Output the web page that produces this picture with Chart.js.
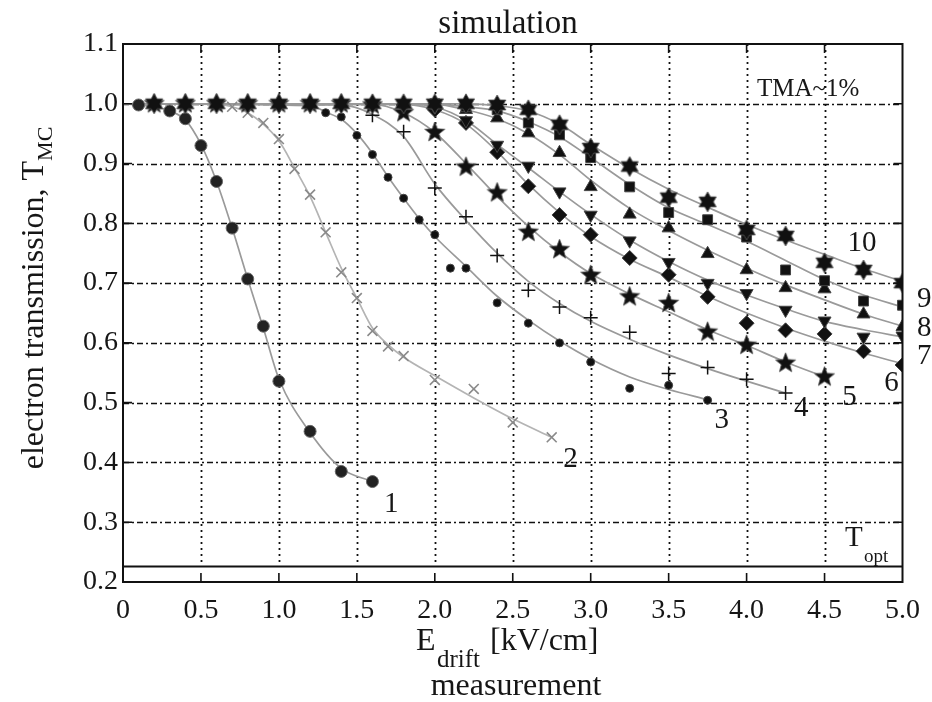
<!DOCTYPE html>
<html>
<head>
<meta charset="utf-8">
<script src="https://cdn.jsdelivr.net/npm/chart.js@4.4.1/dist/chart.umd.min.js"></script>
<style>
  html, body { margin:0; padding:0; background:#fff; }
  #c { display:block; }
</style>
</head>
<body>
<canvas id="c" width="932" height="702"></canvas>
<script>
"use strict";
const SERIF = '"Liberation Serif", "Times New Roman", serif';
const INK = "#161616";

const s1X  = [0.1, 0.3, 0.4, 0.5, 0.6, 0.7, 0.8, 0.9, 1.0, 1.2, 1.4, 1.6];
const s1Y  = [0.998, 0.988, 0.975, 0.93, 0.87, 0.792, 0.707, 0.628, 0.536, 0.452, 0.385, 0.368];
const s2X  = [0.7, 0.8, 0.9, 1.0, 1.1, 1.2, 1.3, 1.4, 1.5, 1.6, 1.7, 1.8, 2.0, 2.25, 2.5, 2.75];
const s2Y  = [0.995, 0.985, 0.968, 0.941, 0.891, 0.848, 0.785, 0.718, 0.675, 0.62, 0.594, 0.578, 0.538, 0.523, 0.467, 0.442];
const s3X  = [1.2, 1.3, 1.4, 1.5, 1.6, 1.7, 1.8, 1.9, 2.0, 2.1, 2.2, 2.4, 2.6, 2.8, 3.0, 3.25, 3.5, 3.75];
const s3Y  = [0.997, 0.985, 0.978, 0.947, 0.915, 0.877, 0.842, 0.806, 0.781, 0.725, 0.725, 0.667, 0.633, 0.6, 0.568, 0.524, 0.529, 0.504];
const s4X  = [1.4, 1.6, 1.8, 2.0, 2.2, 2.4, 2.6, 2.8, 3.0, 3.25, 3.5, 3.75, 4.0, 4.25];
const s4Y  = [0.997, 0.981, 0.953, 0.859, 0.811, 0.746, 0.688, 0.66, 0.642, 0.618, 0.549, 0.559, 0.539, 0.516];
const s5X  = [0.2, 0.4, 0.6, 0.8, 1.0, 1.2, 1.4, 1.6, 1.8, 2.0, 2.2, 2.4, 2.6, 2.8, 3.0, 3.25, 3.5, 3.75, 4.0, 4.25, 4.5];
const s5Y  = [1, 1, 1, 1, 1, 1, 1, 0.998, 0.985, 0.952, 0.894, 0.851, 0.785, 0.756, 0.713, 0.677, 0.666, 0.618, 0.596, 0.566, 0.543];
const s6X  = [1.6, 1.8, 2.0, 2.2, 2.4, 2.6, 2.8, 3.0, 3.25, 3.5, 3.75, 4.0, 4.25, 4.5, 4.75, 5.0];
const s6Y  = [1, 0.998, 0.99, 0.968, 0.919, 0.862, 0.814, 0.781, 0.742, 0.714, 0.677, 0.633, 0.621, 0.615, 0.586, 0.563];
const s7X  = [1.8, 2.0, 2.2, 2.4, 2.6, 2.8, 3.0, 3.25, 3.5, 3.75, 4.0, 4.25, 4.5, 4.75, 5.0];
const s7Y  = [1, 0.995, 0.972, 0.931, 0.896, 0.853, 0.814, 0.771, 0.735, 0.70, 0.683, 0.655, 0.637, 0.61, 0.612];
const s8X  = [2.0, 2.2, 2.4, 2.6, 2.8, 3.0, 3.25, 3.5, 3.75, 4.0, 4.25, 4.5, 4.75, 5.0];
const s8Y  = [1, 0.99, 0.976, 0.951, 0.918, 0.861, 0.815, 0.792, 0.749, 0.722, 0.692, 0.69, 0.648, 0.627];
const s9X  = [2.0, 2.2, 2.4, 2.6, 2.8, 3.0, 3.25, 3.5, 3.75, 4.0, 4.25, 4.5, 4.75, 5.0];
const s9Y  = [1, 0.995, 0.99, 0.968, 0.948, 0.91, 0.861, 0.818, 0.806, 0.777, 0.722, 0.704, 0.67, 0.663];
const s10X = [0.2, 0.4, 0.6, 0.8, 1.0, 1.2, 1.4, 1.6, 1.8, 2.0, 2.2, 2.4, 2.6, 2.8, 3.0, 3.25, 3.5, 3.75, 4.0, 4.25, 4.5, 4.75, 5.0];
const s10Y = [1, 1, 1, 1, 1, 1, 1, 1, 1, 1, 1, 0.998, 0.99, 0.965, 0.926, 0.895, 0.843, 0.836, 0.789, 0.779, 0.734, 0.722, 0.70];

// --- the grey fitted curves as [x, y] pairs ---
const fit1  = [[0, 1], [0.1, 0.998], [0.2, 0.995], [0.3, 0.988], [0.4, 0.973], [0.5, 0.932], [0.6, 0.87], [0.7, 0.792], [0.8, 0.707], [0.9, 0.625], [1.0, 0.54], [1.2, 0.45], [1.4, 0.39], [1.6, 0.368]];
const fit2  = [[0, 1], [0.6, 1], [0.7, 0.995], [0.8, 0.985], [0.9, 0.966], [1.0, 0.938], [1.1, 0.893], [1.2, 0.845], [1.3, 0.785], [1.4, 0.725], [1.5, 0.675], [1.6, 0.625], [1.7, 0.597], [1.8, 0.576], [2.0, 0.545], [2.25, 0.508], [2.5, 0.473], [2.75, 0.442]];
const fit3  = [[0, 1], [1.2, 0.997], [1.3, 0.986], [1.4, 0.974], [1.5, 0.95], [1.6, 0.917], [1.7, 0.878], [1.8, 0.842], [1.9, 0.808], [2.0, 0.778], [2.2, 0.728], [2.4, 0.678], [2.6, 0.638], [2.8, 0.603], [3.0, 0.573], [3.25, 0.543], [3.5, 0.522], [3.75, 0.505]];
const fit4  = [[0, 1], [1.4, 0.998], [1.6, 0.982], [1.8, 0.945], [2.0, 0.866], [2.2, 0.805], [2.4, 0.75], [2.6, 0.703], [2.8, 0.666], [3.0, 0.636], [3.25, 0.606], [3.5, 0.58], [3.75, 0.557], [4.0, 0.536], [4.25, 0.516]];
const fit5  = [[0, 1], [1.6, 0.999], [1.8, 0.985], [2.0, 0.952], [2.2, 0.9], [2.4, 0.845], [2.6, 0.795], [2.8, 0.752], [3.0, 0.716], [3.25, 0.682], [3.5, 0.652], [3.75, 0.622], [4.0, 0.596], [4.25, 0.568], [4.5, 0.543]];
const fit6  = [[0, 1], [1.8, 0.999], [2.0, 0.99], [2.2, 0.966], [2.4, 0.92], [2.6, 0.865], [2.8, 0.818], [3.0, 0.778], [3.25, 0.74], [3.5, 0.71], [3.75, 0.678], [4.0, 0.65], [4.25, 0.625], [4.5, 0.603], [4.75, 0.583], [5.0, 0.565]];
const fit7  = [[0, 1], [1.8, 1], [2.0, 0.995], [2.2, 0.972], [2.4, 0.932], [2.6, 0.893], [2.8, 0.853], [3.0, 0.815], [3.25, 0.772], [3.5, 0.736], [3.75, 0.705], [4.0, 0.68], [4.25, 0.657], [4.5, 0.636], [4.75, 0.622], [5.0, 0.61]];
const fit8  = [[0, 1], [2.0, 0.999], [2.2, 0.99], [2.4, 0.975], [2.6, 0.95], [2.8, 0.915], [3.0, 0.872], [3.25, 0.825], [3.5, 0.788], [3.75, 0.755], [4.0, 0.725], [4.25, 0.697], [4.5, 0.672], [4.75, 0.648], [5.0, 0.628]];
const fit9  = [[0, 1], [2.0, 1], [2.2, 0.995], [2.4, 0.988], [2.6, 0.97], [2.8, 0.945], [3.0, 0.91], [3.25, 0.865], [3.5, 0.826], [3.75, 0.798], [4.0, 0.77], [4.25, 0.738], [4.5, 0.706], [4.75, 0.68], [5.0, 0.66]];
const fit10 = [[0, 1], [2.2, 1], [2.4, 0.997], [2.6, 0.988], [2.8, 0.966], [3.0, 0.932], [3.25, 0.892], [3.5, 0.857], [3.75, 0.827], [4.0, 0.798], [4.25, 0.772], [4.5, 0.748], [4.75, 0.724], [5.0, 0.703]];

// curve numbers and where they sit (data units)
const curveNames = ["1", "2", "3", "4", "5", "6", "7", "8", "9", "10"];
const curveNameX = [1.72, 2.87, 3.84, 4.35, 4.66, 4.93, 5.14, 5.14, 5.14, 4.74];
const curveNameY = [0.33, 0.405, 0.47, 0.49, 0.508, 0.532, 0.578, 0.625, 0.673, 0.767];

const T_OPT = 0.226;

// --- marker images for the filled stars ---
function starImage(n, rOut, rIn) {
  const size = Math.ceil(rOut * 2 + 4);
  const cv = document.createElement("canvas");
  cv.width = size; cv.height = size;
  const g = cv.getContext("2d");
  g.translate(size / 2, size / 2);
  g.beginPath();
  for (let i = 0; i < n * 2; i++) {
    const r = i % 2 ? rIn : rOut;
    const a = -Math.PI / 2 + i * Math.PI / n;
    i ? g.lineTo(r * Math.cos(a), r * Math.sin(a)) : g.moveTo(r * Math.cos(a), r * Math.sin(a));
  }
  g.closePath();
  g.fillStyle = "#111";
  g.fill();
  g.strokeStyle = "#555";
  g.lineWidth = 0.8;
  g.stroke();
  return cv;
}
const star5 = starImage(5, 10.5, 4.5);
const star6 = starImage(6, 10, 5.8);

const pts = (xs, ys) => xs.map((x, i) => ({ x, y: ys[i] }));
const pairs = arr => arr.map(([x, y]) => ({ x, y }));

const series = [
  { xs: s1X,  ys: s1Y,  fit: fit1,  style: "circle",   r: 6,   fill: "#222", edge: "#666", lw: 1, line: "#9a9a9a" },
  { xs: s2X,  ys: s2Y,  fit: fit2,  style: "crossRot", r: 7,   fill: "#888", edge: "#8a8a8a", lw: 1.6, line: "#b4b4b4" },
  { xs: s3X,  ys: s3Y,  fit: fit3,  style: "circle",   r: 4,   fill: "#111", edge: "#444", lw: 1, line: "#9a9a9a" },
  { xs: s4X,  ys: s4Y,  fit: fit4,  style: "cross",    r: 7,   fill: "#111", edge: "#111", lw: 1.5, line: "#9a9a9a" },
  { xs: s5X,  ys: s5Y,  fit: fit5,  style: star5,      r: 10,  fill: "#111", edge: "#111", lw: 1, line: "#9a9a9a" },
  { xs: s6X,  ys: s6Y,  fit: fit6,  style: "rectRot",  r: 7.5, fill: "#111", edge: "#444", lw: 1, line: "#9a9a9a" },
  { xs: s7X,  ys: s7Y,  fit: fit7,  style: "triangle", r: 7.5, fill: "#111", edge: "#444", lw: 1, line: "#9a9a9a", rot: 180 },
  { xs: s8X,  ys: s8Y,  fit: fit8,  style: "triangle", r: 7.5, fill: "#111", edge: "#444", lw: 1, line: "#9a9a9a" },
  { xs: s9X,  ys: s9Y,  fit: fit9,  style: "rect",     r: 7,   fill: "#111", edge: "#444", lw: 1, line: "#9a9a9a" },
  { xs: s10X, ys: s10Y, fit: fit10, style: star6,      r: 10,  fill: "#111", edge: "#111", lw: 1, line: "#9a9a9a" },
];

const datasets = [];
series.forEach((s, i) => {
  // smooth grey curve
  datasets.push({
    data: pairs(s.fit), borderColor: s.line, borderWidth: 1.7,
    pointRadius: 0, cubicInterpolationMode: "monotone", order: 100 - i,
  });
  // markers
  datasets.push({
    data: pts(s.xs, s.ys), showLine: false,
    pointStyle: s.style, pointRadius: s.r, pointRotation: s.rot || 0,
    pointBackgroundColor: s.fill, pointBorderColor: s.edge, pointBorderWidth: s.lw,
    order: 50 - i,
  });
});

function gridValues(scale) {
  return scale.ticks.map(t => t.value).filter(v => v > scale.min + 1e-6 && v < scale.max - 1e-6);
}

const frame = {
  id: "frame",
  beforeDatasetsDraw(chart) {
    const { ctx, chartArea: a, scales: { x, y } } = chart;
    const yOpt = y.getPixelForValue(T_OPT);
    ctx.save();
    ctx.strokeStyle = "#111";
    ctx.lineWidth = 1.8;
    ctx.setLineDash([2, 4]);
    gridValues(x).forEach(v => {
      const px = Math.round(x.getPixelForValue(v)) + 0.5;
      ctx.beginPath(); ctx.moveTo(px, a.top); ctx.lineTo(px, yOpt); ctx.stroke();
    });
    ctx.lineWidth = 1.6;
    ctx.setLineDash([6, 3, 2, 3]);
    gridValues(y).forEach(v => {
      const py = Math.round(y.getPixelForValue(v)) + 0.5;
      ctx.beginPath(); ctx.moveTo(a.left, py); ctx.lineTo(a.right, py); ctx.stroke();
    });
    ctx.restore();
  },
  afterDatasetsDraw(chart) {
    const { ctx, chartArea: a, scales: { x, y } } = chart;
    ctx.save();
    ctx.strokeStyle = "#111";
    ctx.lineWidth = 2;
    ctx.setLineDash([]);
    ctx.strokeRect(a.left, a.top, a.right - a.left, a.bottom - a.top);
    const yOpt = y.getPixelForValue(T_OPT);
    ctx.beginPath(); ctx.moveTo(a.left, yOpt); ctx.lineTo(a.right, yOpt); ctx.stroke();
    ctx.lineWidth = 1.6;
    gridValues(y).forEach(v => {
      const py = y.getPixelForValue(v);
      ctx.beginPath();
      ctx.moveTo(a.left, py); ctx.lineTo(a.left + 9, py);
      ctx.moveTo(a.right, py); ctx.lineTo(a.right - 9, py);
      ctx.stroke();
    });
    gridValues(x).forEach(v => {
      const px = x.getPixelForValue(v);
      ctx.beginPath();
      ctx.moveTo(px, a.bottom); ctx.lineTo(px, a.bottom - 9);
      ctx.moveTo(px, a.top); ctx.lineTo(px, a.top + 9);
      ctx.stroke();
    });
    ctx.restore();
  },
  afterDraw(chart) {
    const { ctx, scales: { x, y } } = chart;
    ctx.save();
    ctx.fillStyle = INK;
    ctx.textBaseline = "alphabetic";

    // title
    ctx.font = `33px ${SERIF}`;
    ctx.textAlign = "center";
    ctx.fillText("simulation", 508, 33);

    // x axis title with subscript
    ctx.textAlign = "left";
    ctx.font = `32px ${SERIF}`;
    ctx.fillText("E", 416, 650);
    ctx.font = `25px ${SERIF}`;
    ctx.fillText("drift", 437, 667);
    ctx.font = `32px ${SERIF}`;
    ctx.fillText("[kV/cm]", 490, 650);
    ctx.textAlign = "center";
    ctx.fillText("measurement", 516, 695);

    // y axis title, rotated
    ctx.save();
    ctx.translate(43, 298);
    ctx.rotate(-Math.PI / 2);
    ctx.textAlign = "left";
    ctx.font = `32px ${SERIF}`;
    const main = "electron transmission, T";
    const w1 = ctx.measureText(main).width;
    ctx.font = `22px ${SERIF}`;
    const w2 = ctx.measureText("MC").width;
    const x0 = -(w1 + w2) / 2;
    ctx.font = `32px ${SERIF}`;
    ctx.fillText(main, x0, 0);
    ctx.font = `22px ${SERIF}`;
    ctx.fillText("MC", x0 + w1, 9);
    ctx.restore();

    // annotations
    ctx.textAlign = "left";
    ctx.font = `25px ${SERIF}`;
    ctx.fillText("TMA~1%", 757, 96);
    ctx.font = `29px ${SERIF}`;
    ctx.fillText("T", 845, 546);
    ctx.font = `19px ${SERIF}`;
    ctx.fillText("opt", 864, 562);

    // curve numbers
    ctx.font = `29px ${SERIF}`;
    ctx.textAlign = "center";
    ctx.textBaseline = "middle";
    curveNames.forEach((t, i) => {
      ctx.fillText(t, x.getPixelForValue(curveNameX[i]), y.getPixelForValue(curveNameY[i]));
    });
    ctx.restore();
  }
};

new Chart(document.getElementById("c"), {
  type: "line",
  data: { datasets },
  plugins: [frame],
  options: {
    responsive: false,
    animation: false,
    devicePixelRatio: 1,
    layout: { padding: { top: 44, right: 23, left: 0, bottom: 0 } },
    plugins: { legend: { display: false }, tooltip: { enabled: false }, title: { display: false } },
    scales: {
      x: {
        type: "linear", min: 0, max: 5,
        grid: { display: false, drawTicks: false },
        border: { display: false },
        ticks: {
          stepSize: 0.5, padding: 12, color: INK,
          font: { family: SERIF, size: 28 },
          callback: v => v === 0 ? "0" : v.toFixed(1),
        },
        afterFit: s => { s.height = 120; },
      },
      y: {
        type: "linear", min: 0.2, max: 1.1,
        grid: { display: false, drawTicks: false },
        border: { display: false },
        ticks: {
          stepSize: 0.1, padding: 5, color: INK,
          font: { family: SERIF, size: 28 },
          callback: v => v.toFixed(1),
        },
        afterFit: s => { s.width = 123; },
      },
    },
  },
});
</script>
</body>
</html>
